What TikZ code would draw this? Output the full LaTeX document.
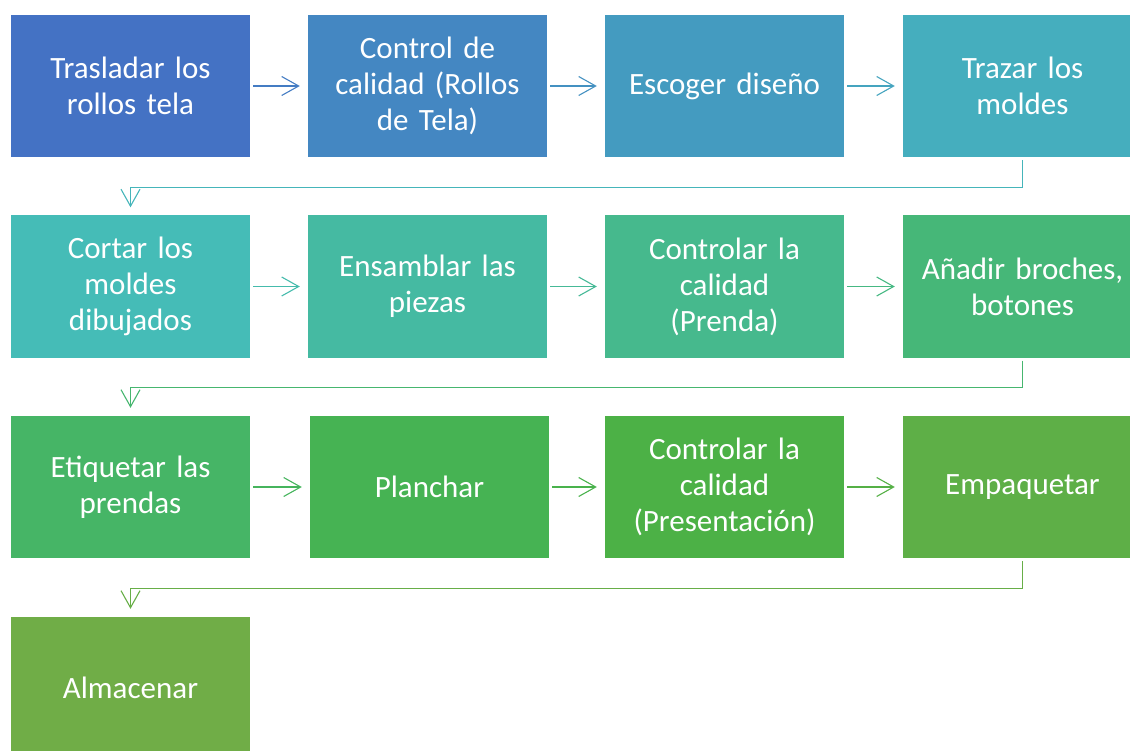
\documentclass[tikz,border=0pt]{standalone}
\usepackage{fontspec}
\setmainfont{Carlito}
\usetikzlibrary{arrows.meta}

\definecolor{paso0}{HTML}{4472C4}
\definecolor{paso1}{HTML}{4487C2}
\definecolor{paso2}{HTML}{449BC0}
\definecolor{paso3}{HTML}{45AEBE}
\definecolor{paso4}{HTML}{45BCB7}
\definecolor{paso5}{HTML}{45BAA2}
\definecolor{paso6}{HTML}{46B98D}
\definecolor{paso7}{HTML}{46B778}
\definecolor{paso8}{HTML}{46B566}
\definecolor{paso9}{HTML}{46B353}
\definecolor{paso10}{HTML}{4CB146}
\definecolor{paso11}{HTML}{5EAF47}
\definecolor{paso12}{HTML}{70AD47}

\begin{document}
\begin{tikzpicture}[x=1pt,y=-1pt,
    paso/.style={rectangle, minimum width=239pt, minimum height=142pt, inner sep=0pt,
        text width=225pt, align=center, text=white, font=\fontsize{31}{36}\selectfont},
    flecha/.style={line width=1.1pt, -{Straight Barb[length=17pt,width=19pt]},
        shorten <=3pt, shorten >=8pt}]
    \useasboundingbox (0,0) rectangle (1130,751);
    \clip (0,0) rectangle (1130,751);

    % primera fila
    \node[paso,fill=paso0] (trasladar) at (130.5,86) {Trasladar los\\rollos tela};
    \node[paso,fill=paso1] (control) at (427.5,86) {Control de\\calidad (Rollos\\de Tela)};
    \node[paso,fill=paso2] (escoger) at (724.5,86) {Escoger diseño};
    \node[paso,fill=paso3] (trazar) at (1022.5,86) {Trazar los\\moldes};

    % segunda fila
    \node[paso,fill=paso4] (cortar) at (130.5,286.5) {Cortar los\\moldes\\dibujados};
    \node[paso,fill=paso5] (ensamblar) at (427.5,286.5) {Ensamblar las\\piezas};
    \node[paso,fill=paso6] (controlprenda) at (724.5,286.5) {Controlar la\\calidad\\(Prenda)};
    \node[paso,fill=paso7] (anadir) at (1022.5,286.5) {Añadir broches,\\botones};

    % tercera fila
    \node[paso,fill=paso8] (etiquetar) at (130.5,487) {Etiquetar las\\prendas};
    \node[paso,fill=paso9] (planchar) at (429.5,487) {Planchar};
    \node[paso,fill=paso10] (controlpres) at (724.5,487) {Controlar la\\calidad\\(Presentación)};
    \node[paso,fill=paso11] (empaquetar) at (1022.5,487) {Empaquetar};

    % cuarta fila
    \node[paso,fill=paso12] (almacenar) at (130.5,688) {Almacenar};

    \draw[flecha,paso0!50!paso1] (trasladar) -- (control);
    \draw[flecha,paso1!50!paso2] (control) -- (escoger);
    \draw[flecha,paso2!50!paso3] (escoger) -- (trazar);
    \draw[flecha,paso3!50!paso4] (trazar.south) -- ++(0,30) -| (cortar.north);

    \draw[flecha,paso4!50!paso5] (cortar) -- (ensamblar);
    \draw[flecha,paso5!50!paso6] (ensamblar) -- (controlprenda);
    \draw[flecha,paso6!50!paso7] (controlprenda) -- (anadir);
    \draw[flecha,paso7!50!paso8] (anadir.south) -- ++(0,30) -| (etiquetar.north);

    \draw[flecha,paso8!50!paso9] (etiquetar) -- (planchar);
    \draw[flecha,paso9!50!paso10] (planchar) -- (controlpres);
    \draw[flecha,paso10!50!paso11] (controlpres) -- (empaquetar);
    \draw[flecha,paso11!50!paso12] (empaquetar.south) -- ++(0,30) -| (almacenar.north);

\end{tikzpicture}
\end{document}
